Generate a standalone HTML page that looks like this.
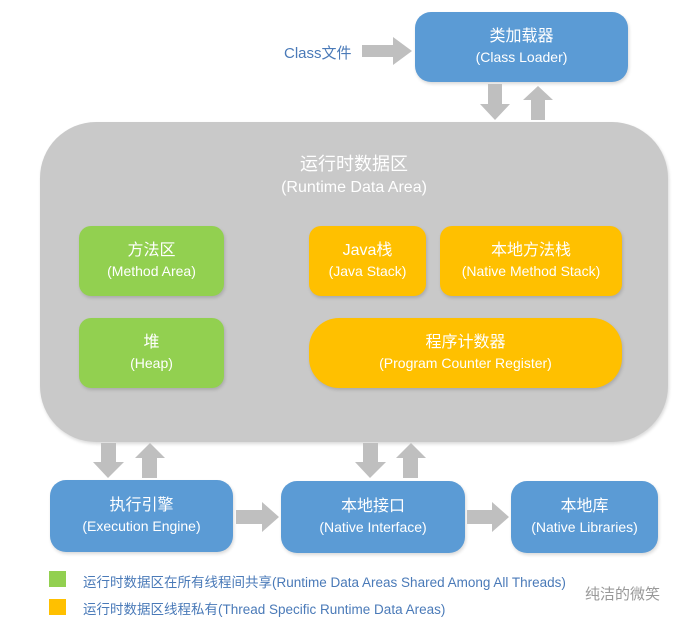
<!DOCTYPE html>
<html><head><meta charset="utf-8"><style>
body{margin:0;width:686px;height:627px;background:#fff;position:relative;overflow:hidden;font-family:"Liberation Sans","Noto Sans CJK SC",sans-serif}
.b{position:absolute;color:#fff;text-align:center;display:flex;flex-direction:column;justify-content:center;font-size:14px;line-height:21px;box-shadow:1px 2px 3px rgba(0,0,0,.15)}
.b b{font-weight:normal;font-size:16px}
.blue{background:#5b9bd5;border-radius:16px}
.g{background:#92d050;border-radius:12px}
.y{background:#ffc000;border-radius:12px}
.t{position:absolute;font-size:13.5px;color:#4a7ab8;white-space:nowrap}
</style></head><body>
<div class="b" style="left:40px;top:122px;width:628px;height:320px;background:#c9c9c9;border-radius:56px;justify-content:flex-start;padding-top:30px;box-sizing:border-box;font-size:16px;line-height:24px"><span style="font-size:18px">运行时数据区</span><span>(Runtime Data Area)</span></div>
<div class="b blue" style="left:415px;top:12px;width:213px;height:70px"><b>类加载器</b>(Class Loader)</div>
<div class="b g" style="left:79px;top:226px;width:145px;height:70px"><b>方法区</b>(Method Area)</div>
<div class="b g" style="left:79px;top:318px;width:145px;height:70px"><b>堆</b>(Heap)</div>
<div class="b y" style="left:309px;top:226px;width:117px;height:70px"><b>Java栈</b>(Java Stack)</div>
<div class="b y" style="left:440px;top:226px;width:182px;height:70px"><b>本地方法栈</b>(Native Method Stack)</div>
<div class="b y" style="left:309px;top:318px;width:313px;height:70px;border-radius:30px"><b>程序计数器</b>(Program Counter Register)</div>
<div class="b blue" style="left:50px;top:480px;width:183px;height:72px"><b>执行引擎</b>(Execution Engine)</div>
<div class="b blue" style="left:281px;top:481px;width:184px;height:72px"><b>本地接口</b>(Native Interface)</div>
<div class="b blue" style="left:511px;top:481px;width:147px;height:72px"><b>本地库</b>(Native Libraries)</div>
<div class="t" style="left:284px;top:42px;font-size:15px">Class文件</div>
<svg width="686" height="627" style="position:absolute;left:0;top:0" fill="#bfbfbf">
<polygon points="362,45 393,45 393,37 412,51 393,65 393,57 362,57"/>
<polygon points="488,84 502,84 502,104 510,104 495,120 480,104 488,104"/>
<polygon points="531,120 545,120 545,100 553,100 538,86 523,100 531,100"/>
<polygon points="101,443 116,443 116,462 124,462 108,478 93,462 101,462"/>
<polygon points="142,478 157,478 157,458 165,458 150,443 135,458 142,458"/>
<polygon points="363,443 378,443 378,462 386,462 370,478 355,462 363,462"/>
<polygon points="403,478 418,478 418,458 426,458 411,443 396,458 403,458"/>
<polygon points="236,510 262,510 262,502 279,517 262,532 262,524 236,524"/>
<polygon points="467,510 492,510 492,502 509,517 492,532 492,524 467,524"/>
<rect x="49" y="571" width="17" height="16" fill="#92d050"/>
<rect x="49" y="599" width="17" height="16" fill="#ffc000"/>
</svg>
<div class="t" style="left:83px;top:571px">运行时数据区在所有线程间共享(Runtime Data Areas Shared Among All Threads)</div>
<div class="t" style="left:83px;top:598px">运行时数据区线程私有(Thread Specific Runtime Data Areas)</div>
<div class="t" style="left:585px;top:583px;color:#999;font-size:15px">纯洁的微笑</div>
</body></html>
